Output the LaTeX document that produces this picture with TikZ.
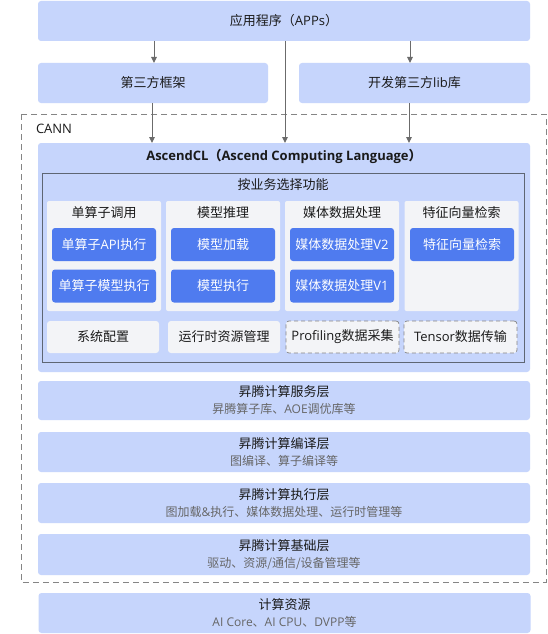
\documentclass[tikz,border=0pt]{standalone}
\usepackage{fontspec}
\setmainfont{Noto Sans CJK SC}
\newfontfamily\latf{Open Sans}
\newcommand{\la}[1]{{\latf #1}}
\usetikzlibrary{arrows.meta}
\definecolor{lb}{HTML}{C6D5FC}
\definecolor{bb}{HTML}{4F7BEF}
\definecolor{pg}{HTML}{F3F4F7}
\definecolor{bd}{HTML}{5E6673}
\definecolor{ag}{HTML}{6B6B6B}
\definecolor{tx}{HTML}{1A1A1A}
\definecolor{sb}{HTML}{666666}
\definecolor{dg}{HTML}{858585}
\newcommand{\subtxt}[1]{{\fontsize{12}{17}\selectfont\color{sb}#1}}
\begin{document}
\begin{tikzpicture}[x=1pt,y=-1pt,
  every node/.style={inner sep=0pt, outer sep=0pt, text=tx, font=\fontsize{13}{17}\selectfont},
  layer/.style={fill=lb, rounded corners=3pt, align=center},
  panel/.style={fill=pg, rounded corners=2pt, minimum width=114pt, minimum height=110pt},
  btn/.style={fill=bb, text=white, rounded corners=3pt, minimum width=104pt, minimum height=33pt},
  flat/.style={fill=pg, rounded corners=3pt, minimum width=112pt, minimum height=32pt},
  dbox/.style={fill=pg, draw=dg, dash pattern=on 4pt off 3pt, line width=0.7pt, rounded corners=3pt, minimum width=112pt, minimum height=32pt},
  arr/.style={draw=ag, line width=1pt, -{Triangle[length=6pt,width=5.5pt]}}
]
\useasboundingbox (0,0) rectangle (547,634);
\fill[white] (0,0) rectangle (547,634);

% top layer
\node[layer, minimum width=492pt, minimum height=40pt] (apps) at (284,21) {应用程序（\la{APPs}）};
\node[layer, minimum width=230pt, minimum height=40pt] (fw) at (153,83) {第三方框架};
\node[layer, minimum width=231pt, minimum height=40pt] (lib) at (414.5,83) {开发第三方\la{lib}库};

% CANN frame
\draw[draw=dg, line width=1pt, dash pattern=on 6pt off 4pt] (21,114) rectangle (546,582);
\node[anchor=west] (cann) at (36,128.5) {\la{CANN}};

% AscendCL
\node[layer, minimum width=492pt, minimum height=229pt] (acl) at (284,257.5) {};
\node (acltitle) at (284,156) {\bfseries \la{AscendCL}（\la{Ascend Computing Language}）};
\node[fill=lb, draw=bd, line width=0.8pt, minimum width=482pt, minimum height=189pt] (inner) at (283,267.5) {};
\node (innertitle) at (283,185) {按业务选择功能};

% columns
\node[panel] (p1) at (104,256) {};
\node[panel] (p2) at (223,256) {};
\node[panel] (p3) at (342,256) {};
\node[panel] (p4) at (461.5,256) {};
\node (h1) at (104,213) {单算子调用};
\node (h2) at (223,213) {模型推理};
\node (h3) at (342,213) {媒体数据处理};
\node (h4) at (461.5,213) {特征向量检索};
\node[btn] (b11) at (104,244.5) {单算子\la{API}执行};
\node[btn] (b12) at (104,286) {单算子模型执行};
\node[btn] (b21) at (223,244.5) {模型加载};
\node[btn] (b22) at (223,286) {模型执行};
\node[btn] (b31) at (342,244.5) {媒体数据处理\la{V2}};
\node[btn] (b32) at (342,286) {媒体数据处理\la{V1}};
\node[btn] (b41) at (462,244.5) {特征向量检索};

% bottom row
\node[flat] (sys) at (103,337) {系统配置};
\node[flat] (rt) at (224,337) {运行时资源管理};
\node[dbox, minimum width=113pt] (prof) at (342.5,337) {\la{Profiling}数据采集};
\node[dbox, minimum width=113pt] (tensor) at (460.5,337) {\la{Tensor}数据传输};

% lower layers
\node[layer, minimum width=492pt, minimum height=39pt] (svc) at (284,400.5) {昇腾计算服务层\\\subtxt{昇腾算子库、\la{AOE}调优库等}};
\node[layer, minimum width=492pt, minimum height=40pt] (cmp) at (284,452) {昇腾计算编译层\\\subtxt{图编译、算子编译等}};
\node[layer, minimum width=492pt, minimum height=40pt] (exe) at (284,503) {昇腾计算执行层\\\subtxt{图加载\la{\&}执行、媒体数据处理、运行时管理等}};
\node[layer, minimum width=492pt, minimum height=41pt] (base) at (284,554.5) {昇腾计算基础层\\\subtxt{驱动、资源/通信/设备管理等}};
\node[layer, minimum width=492pt, minimum height=40pt] (hw) at (284.5,613) {计算资源\\\subtxt{\la{AI Core}、\la{AI CPU}、\la{DVPP}等}};

% arrows
\coordinate (xa) at (154,0);
\coordinate (xb) at (410,0);
\coordinate (xc) at (285,0);
\coordinate (xd) at (152,0);
\coordinate (xe) at (409,0);
\draw[arr] (apps.south -| xa) -- (fw.north -| xa);
\draw[arr] (apps.south -| xb) -- (lib.north -| xb);
\draw[arr] (apps.south -| xc) -- (acl.north -| xc);
\draw[arr] (fw.south -| xd) -- (acl.north -| xd);
\draw[arr] (lib.south -| xe) -- (acl.north -| xe);
\end{tikzpicture}
\end{document}
